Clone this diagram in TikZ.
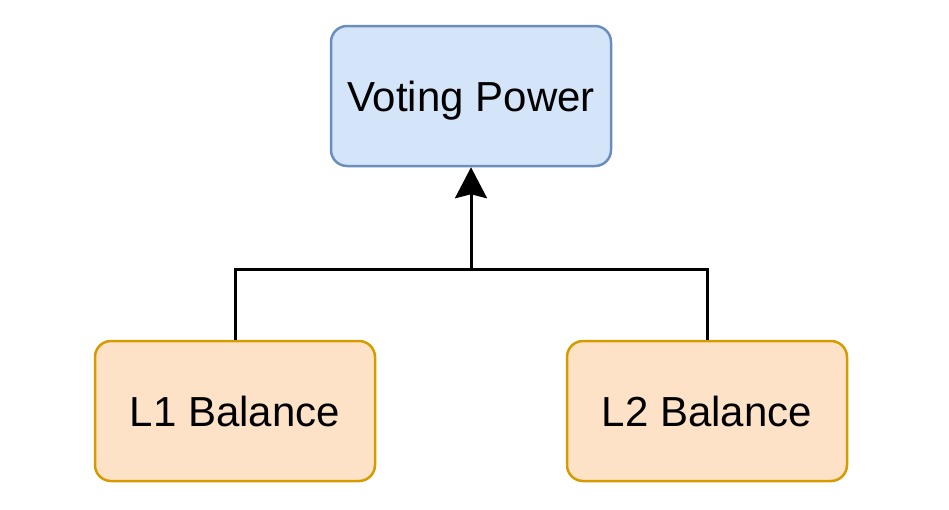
\documentclass[tikz,border=0pt]{standalone}
\usepackage{fontspec}
\setmainfont{Liberation Sans}
\usetikzlibrary{arrows.meta}
\definecolor{bluefill}{HTML}{D4E5F9}
\definecolor{bluedraw}{HTML}{6C8EBF}
\definecolor{orfill}{HTML}{FDE2C8}
\definecolor{ordraw}{HTML}{D79B00}
\tikzset{
  box/.style={rounded corners=16pt, line width=2.5pt, minimum width=280pt, minimum height=140pt, font=\fontsize{42}{50}\selectfont, inner sep=0pt, text height=30pt, text depth=0pt},
  bluebox/.style={box, fill=bluefill, draw=bluedraw},
  orbox/.style={box, fill=orfill, draw=ordraw},
  conn/.style={line width=3pt, black}
}
\begin{document}
\begin{tikzpicture}[x=1pt,y=-1pt]
\useasboundingbox (0,0) rectangle (949,509);
\node[bluebox] (vp) at (471,96) {Voting Power};
\node[orbox] (l1) at (235,411) {L1 Balance};
\node[orbox] (l2) at (707,411) {L2 Balance};
\coordinate (j) at (471,269);
\draw[conn] (l1.north) |- (j) -| (l2.north);
\draw[conn, -{Stealth[length=31pt,width=32pt,inset=4pt]}] (j) -- (vp.south);
\end{tikzpicture}
\end{document}
